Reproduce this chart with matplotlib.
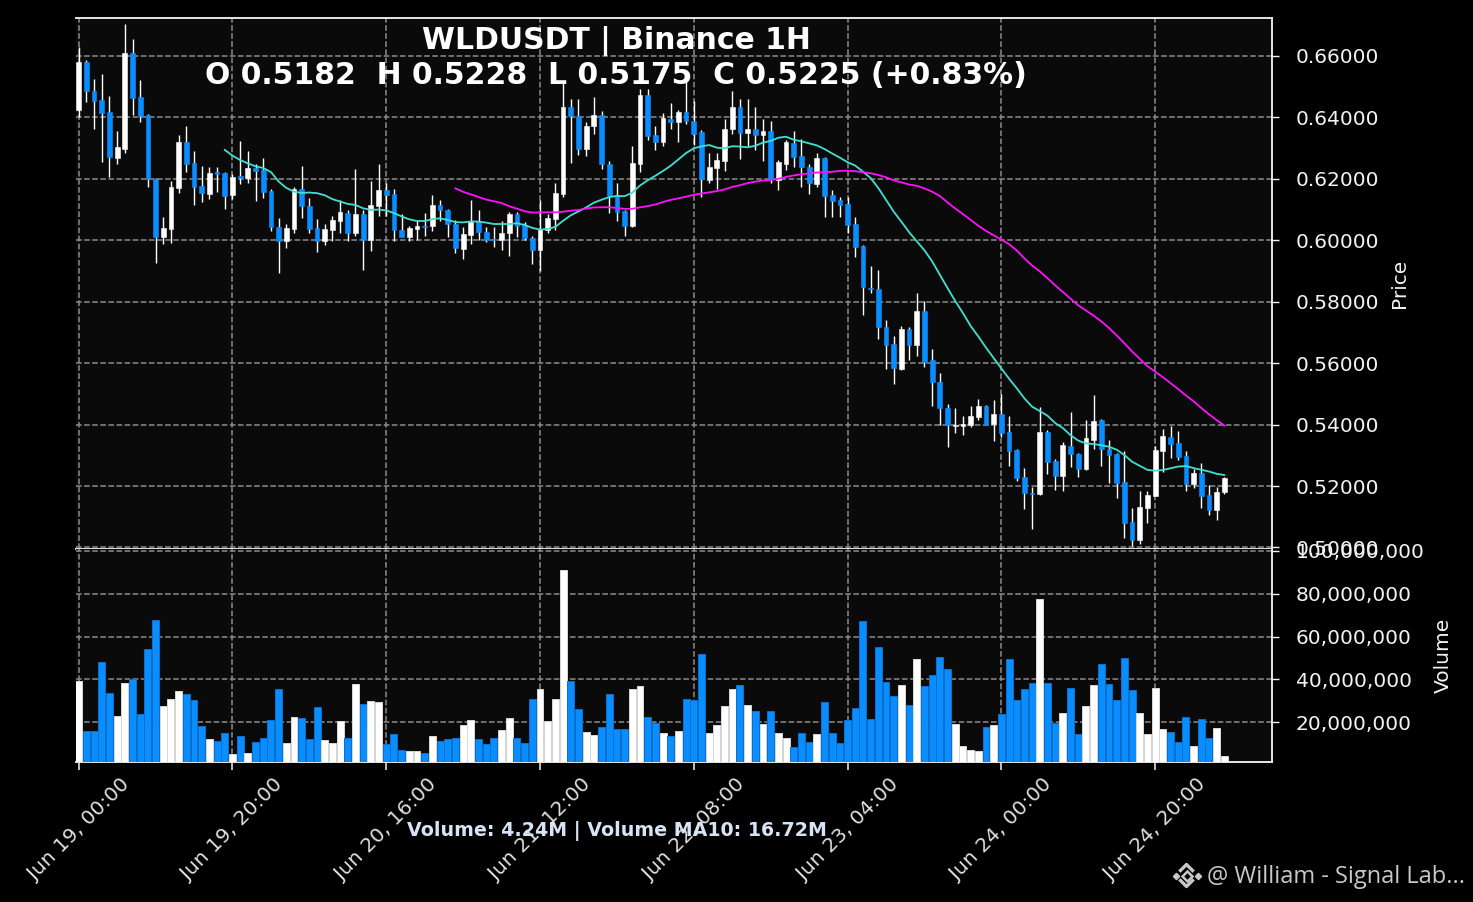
"""WLDUSDT 1H candles with MA20/MA50 and volume panel."""

import matplotlib

matplotlib.use("Agg")
import matplotlib.dates as mdates
import matplotlib.pyplot as plt
import matplotlib.ticker as mticker
import numpy as np
import pandas as pd
from matplotlib.lines import Line2D

SYMBOL = "WLDUSDT"
EXCHANGE = "Binance"
INTERVAL = "1H"
START = "2025-06-19 00:00"

opens = [
    0.6424, 0.6580, 0.6486, 0.6457, 0.6416, 0.6268, 0.6298, 0.6610, 0.6466, 0.6408,
    0.6200, 0.6011, 0.6037, 0.6171, 0.6320, 0.6251, 0.6175, 0.6150, 0.6222, 0.6218,
    0.6147, 0.6209, 0.6202, 0.6235, 0.6228, 0.6159, 0.6044, 0.5996, 0.6038, 0.6165,
    0.6110, 0.6040, 0.5996, 0.6034, 0.6064, 0.6090, 0.6022, 0.6084, 0.6000, 0.6110,
    0.6163, 0.6149, 0.6033, 0.6012, 0.6038, 0.6047, 0.6045, 0.6116, 0.6099, 0.6053,
    0.5972, 0.6017, 0.6059, 0.6028, 0.6004, 0.5999, 0.6023, 0.6086, 0.6050, 0.6008,
    0.5969, 0.6034, 0.6068, 0.6150, 0.6433, 0.6405, 0.6297, 0.6370, 0.6409, 0.6247,
    0.6146, 0.6094, 0.6045, 0.6248, 0.6471, 0.6343, 0.6321, 0.6395, 0.6384, 0.6416,
    0.6389, 0.6351, 0.6196, 0.6236, 0.6259, 0.6362, 0.6433, 0.6349, 0.6362, 0.6341,
    0.6354, 0.6196, 0.6248, 0.6316, 0.6274, 0.6239, 0.6183, 0.6267, 0.6146, 0.6130,
    0.6119, 0.6054, 0.5980, 0.5846, 0.5842, 0.5717, 0.5661, 0.5582, 0.5710, 0.5658,
    0.5768, 0.5609, 0.5540, 0.5454, 0.5395, 0.5395, 0.5400, 0.5426, 0.5459, 0.5402,
    0.5435, 0.5376, 0.5317, 0.5228, 0.5178, 0.5174, 0.5376, 0.5281, 0.5232, 0.5330,
    0.5304, 0.5254, 0.5351, 0.5414, 0.5322, 0.5304, 0.5213, 0.5084, 0.5025, 0.5130,
    0.5168, 0.5315, 0.5360, 0.5341, 0.5297, 0.5206, 0.5243, 0.5171, 0.5122, 0.5182,
]
highs = [
    0.6630, 0.6587, 0.6524, 0.6540, 0.6468, 0.6355, 0.6703, 0.6654, 0.6521, 0.6411,
    0.6204, 0.6075, 0.6193, 0.6341, 0.6372, 0.6290, 0.6243, 0.6237, 0.6237, 0.6223,
    0.6214, 0.6322, 0.6290, 0.6248, 0.6266, 0.6168, 0.6073, 0.6053, 0.6174, 0.6242,
    0.6138, 0.6069, 0.6053, 0.6080, 0.6130, 0.6097, 0.6231, 0.6097, 0.6192, 0.6248,
    0.6185, 0.6168, 0.6084, 0.6047, 0.6066, 0.6088, 0.6146, 0.6132, 0.6102, 0.6067,
    0.6043, 0.6132, 0.6097, 0.6043, 0.6043, 0.6062, 0.6092, 0.6092, 0.6059, 0.6013,
    0.6130, 0.6084, 0.6187, 0.6513, 0.6458, 0.6460, 0.6384, 0.6467, 0.6422, 0.6259,
    0.6185, 0.6097, 0.6307, 0.6493, 0.6491, 0.6370, 0.6414, 0.6447, 0.6425, 0.6518,
    0.6452, 0.6357, 0.6283, 0.6283, 0.6395, 0.6485, 0.6460, 0.6460, 0.6434, 0.6395,
    0.6387, 0.6261, 0.6327, 0.6356, 0.6330, 0.6247, 0.6283, 0.6272, 0.6163, 0.6141,
    0.6141, 0.6074, 0.5984, 0.5915, 0.5902, 0.5739, 0.5687, 0.5720, 0.5717, 0.5829,
    0.5801, 0.5647, 0.5568, 0.5467, 0.5454, 0.5427, 0.5462, 0.5484, 0.5465, 0.5480,
    0.5498, 0.5428, 0.5320, 0.5258, 0.5196, 0.5457, 0.5383, 0.5287, 0.5344, 0.5441,
    0.5308, 0.5416, 0.5495, 0.5419, 0.5349, 0.5308, 0.5314, 0.5128, 0.5184, 0.5184,
    0.5330, 0.5387, 0.5395, 0.5378, 0.5314, 0.5254, 0.5276, 0.5203, 0.5198, 0.5228,
]
lows = [
    0.6402, 0.6451, 0.6361, 0.6253, 0.6207, 0.6247, 0.6283, 0.6408, 0.6384, 0.6174,
    0.5927, 0.5986, 0.5991, 0.6152, 0.6221, 0.6116, 0.6125, 0.6133, 0.6158, 0.6100,
    0.6133, 0.6182, 0.6185, 0.6129, 0.6138, 0.6031, 0.5893, 0.5976, 0.6022, 0.6073,
    0.6022, 0.5963, 0.5984, 0.5996, 0.6022, 0.5998, 0.6014, 0.5904, 0.5965, 0.6080,
    0.6080, 0.5998, 0.6010, 0.5998, 0.6000, 0.6014, 0.6031, 0.6062, 0.6009, 0.5959,
    0.5939, 0.5988, 0.6001, 0.5993, 0.5977, 0.5968, 0.5948, 0.6010, 0.6001, 0.5922,
    0.5901, 0.6023, 0.6034, 0.6139, 0.6250, 0.6278, 0.6275, 0.6345, 0.6232, 0.6089,
    0.6064, 0.6015, 0.6043, 0.6223, 0.6327, 0.6294, 0.6305, 0.6362, 0.6319, 0.6378,
    0.6310, 0.6139, 0.6185, 0.6168, 0.6226, 0.6345, 0.6263, 0.6305, 0.6294, 0.6259,
    0.6185, 0.6163, 0.6228, 0.6239, 0.6174, 0.6149, 0.6174, 0.6075, 0.6075, 0.6075,
    0.6023, 0.5946, 0.5755, 0.5828, 0.5679, 0.5582, 0.5533, 0.5578, 0.5611, 0.5623,
    0.5587, 0.5459, 0.5397, 0.5326, 0.5372, 0.5366, 0.5391, 0.5415, 0.5398, 0.5345,
    0.5361, 0.5266, 0.5217, 0.5124, 0.5059, 0.5172, 0.5238, 0.5187, 0.5185, 0.5261,
    0.5230, 0.5252, 0.5319, 0.5266, 0.5209, 0.5160, 0.5030, 0.5005, 0.5011, 0.5079,
    0.5168, 0.5246, 0.5290, 0.5284, 0.5185, 0.5195, 0.5128, 0.5106, 0.5088, 0.5175,
]
closes = [
    0.6580, 0.6484, 0.6454, 0.6415, 0.6272, 0.6303, 0.6610, 0.6462, 0.6405, 0.6198,
    0.6011, 0.6039, 0.6173, 0.6320, 0.6249, 0.6174, 0.6152, 0.6218, 0.6215, 0.6143,
    0.6205, 0.6202, 0.6235, 0.6226, 0.6158, 0.6042, 0.5996, 0.6040, 0.6165, 0.6111,
    0.6038, 0.5998, 0.6037, 0.6067, 0.6091, 0.6022, 0.6084, 0.6000, 0.6113, 0.6163,
    0.6148, 0.6033, 0.6012, 0.6040, 0.6047, 0.6044, 0.6116, 0.6097, 0.6053, 0.5973,
    0.6021, 0.6059, 0.6026, 0.6002, 0.5999, 0.6024, 0.6084, 0.6046, 0.6007, 0.5969,
    0.6037, 0.6072, 0.6154, 0.6433, 0.6403, 0.6297, 0.6373, 0.6409, 0.6247, 0.6143,
    0.6092, 0.6046, 0.6252, 0.6471, 0.6338, 0.6321, 0.6398, 0.6384, 0.6416, 0.6387,
    0.6346, 0.6198, 0.6239, 0.6261, 0.6363, 0.6433, 0.6349, 0.6363, 0.6341, 0.6356,
    0.6198, 0.6256, 0.6318, 0.6272, 0.6237, 0.6187, 0.6267, 0.6144, 0.6128, 0.6114,
    0.6051, 0.5978, 0.5848, 0.5840, 0.5717, 0.5658, 0.5584, 0.5710, 0.5658, 0.5768,
    0.5605, 0.5538, 0.5453, 0.5397, 0.5399, 0.5402, 0.5429, 0.5459, 0.5400, 0.5435,
    0.5374, 0.5315, 0.5225, 0.5178, 0.5175, 0.5376, 0.5279, 0.5232, 0.5333, 0.5303,
    0.5254, 0.5355, 0.5411, 0.5320, 0.5301, 0.5211, 0.5081, 0.5023, 0.5133, 0.5171,
    0.5317, 0.5362, 0.5336, 0.5295, 0.5206, 0.5243, 0.5169, 0.5122, 0.5182, 0.5225,
]
# volume in millions
volumes_m = [
    39.5, 16.1, 16.1, 48.2, 33.8, 22.8, 38.4, 40.3, 24.0, 54.3,
    67.7, 27.4, 31.0, 34.7, 33.3, 30.5, 18.4, 12.4, 11.5, 15.2,
    5.4, 13.8, 5.9, 11.0, 12.9, 21.2, 35.7, 10.5, 22.6, 22.2,
    12.4, 27.3, 11.9, 10.2, 20.8, 12.9, 38.0, 28.7, 30.1, 29.6,
    10.1, 14.7, 7.3, 6.4, 6.4, 5.9, 13.8, 11.5, 12.4, 12.9,
    18.9, 21.2, 12.4, 10.1, 12.9, 16.6, 22.2, 12.9, 10.5, 31.0,
    35.7, 20.8, 31.0, 91.0, 39.4, 26.4, 15.7, 14.3, 18.0, 33.3,
    17.1, 17.1, 35.7, 37.0, 22.6, 19.8, 15.2, 13.8, 16.1, 31.0,
    30.5, 51.9, 15.2, 18.9, 27.7, 35.7, 37.5, 28.2, 25.4, 19.4,
    25.4, 15.2, 12.9, 8.7, 15.2, 11.0, 14.7, 29.6, 15.2, 10.5,
    21.2, 26.8, 67.3, 21.7, 55.2, 38.9, 32.4, 37.5, 28.2, 49.6,
    37.0, 42.2, 50.5, 45.0, 19.4, 9.1, 7.3, 6.8, 18.0, 18.9,
    24.0, 49.6, 30.5, 35.7, 38.4, 77.5, 38.4, 19.8, 24.5, 36.1,
    14.7, 27.7, 37.5, 47.3, 38.0, 30.5, 50.1, 35.2, 24.5, 14.7,
    36.0, 17.1, 15.7, 11.0, 22.5, 9.1, 21.5, 12.9, 17.2, 4.24,
]

UP = "#ffffff"
DOWN = "#0a8dff"
BG = "#0a0a0a"
GRID = "#8c8c8c"
SPINE = "#e6e6e6"
TXT = "#f2f2f2"

o = np.array(opens)
h = np.array(highs)
l = np.array(lows)
c = np.array(closes)
vol = np.array(volumes_m) * 1e6

times = pd.date_range(START, periods=len(o), freq="h")
x = mdates.date2num(times.to_pydatetime())
hour = 1 / 24
up = c >= o
colors = np.where(up, UP, DOWN)

W, H = 1473, 902
fig = plt.figure(figsize=(W / 100, H / 100), dpi=100, facecolor="black")
left, right = 76, 1272
ax = fig.add_axes([left / W, 1 - 549 / H, (right - left) / W, (549 - 18) / H])
axv = fig.add_axes([left / W, 1 - 762 / H, (right - left) / W, (762 - 549) / H], sharex=ax)

for a in (ax, axv):
    a.set_facecolor(BG)
    a.set_axisbelow(True)
    a.grid(True, color=GRID, linestyle="--", linewidth=1.1)
    a.spines["left"].set_visible(False)
    for s in ("top", "right", "bottom"):
        a.spines[s].set_color(SPINE)
        a.spines[s].set_linewidth(1.4)
    a.yaxis.tick_right()
    a.yaxis.set_label_position("right")
    a.tick_params(axis="y", colors=TXT, labelsize=14.5, length=5, width=1, pad=12)
axv.spines["top"].set_visible(False)

# candles
ax.vlines(x, l, h, color=UP, linewidth=1.0, zorder=2)
body = np.maximum(np.abs(c - o), 0.00006)
ax.bar(x, body, bottom=np.minimum(o, c), width=0.62 * hour,
       color=colors, edgecolor=colors, linewidth=0.4, zorder=3)

# moving averages
ma20 = pd.Series(c).rolling(20).mean()
ma50 = pd.Series(c).rolling(50).mean()
ax.plot(x, ma20, color="#40e0d0", linewidth=1.3, zorder=4)
ax.plot(x, ma50, color="#ff10ff", linewidth=1.3, zorder=4)

ax.set_ylim(l.min() * 0.998, h.max() * 1.003)
ax.set_yticks(np.arange(0.50, 0.6601, 0.02))
ax.yaxis.set_major_formatter(mticker.FormatStrFormatter("%.5f"))
ax.set_ylabel("Price", color=TXT, fontsize=14.5)
ax.yaxis.set_label_coords(1.0987, 0.5)
ax.tick_params(axis="x", bottom=False, labelbottom=False)

# volume
edge = np.where(up, "#d8d8d8", "#0a70d0")
axv.bar(x, vol, width=0.9 * hour, color=colors, edgecolor=edge, linewidth=0.7, zorder=3)
axv.set_ylim(1.5e6, vol.max() * 1.108)
axv.set_yticks([20e6, 40e6, 60e6, 80e6, 100e6])
axv.yaxis.set_major_formatter(mticker.FuncFormatter(lambda v, _: f"{v:,.0f}"))
axv.set_ylabel("Volume", color=TXT, fontsize=14.5)
axv.yaxis.set_label_coords(1.1355, 0.5)

axv.set_xticks(x[::20])
axv.xaxis.set_major_formatter(mdates.DateFormatter("%b %d, %H:%M"))
axv.tick_params(axis="x", colors="#e0e0e0", labelsize=14.5, length=6, width=1.2)
plt.setp(axv.get_xticklabels(), rotation=45, ha="center")
axv.set_xlim(x[0] - 0.35 * hour, x[0] + 155.2 * hour)

# header
chg = (c[-1] / o[-1] - 1) * 100
fig.text(616 / W, 1 - 41 / H, f"{SYMBOL} | {EXCHANGE} {INTERVAL}",
         ha="center", va="center", color="white", fontsize=21.5, weight="bold")
fig.text(616 / W, 1 - 76 / H,
         f"O {o[-1]:.4f}  H {h[-1]:.4f}  L {l[-1]:.4f}  C {c[-1]:.4f} ({chg:+.2f}%)",
         ha="center", va="center", color="white", fontsize=21.5, weight="bold")

vol_ma10 = vol[-10:].mean()
fig.text(617 / W, 1 - 831 / H,
         f"Volume: {vol[-1] / 1e6:.2f}M | Volume MA10: {vol_ma10 / 1e6:.2f}M",
         ha="center", va="center", color="#d6e4f5", fontsize=13.7, weight="bold")

# watermark with small exchange logo
fig.text(1207 / W, 1 - 877 / H, "@ William - Signal Lab...", ha="left", va="center",
         color="#c8c8c8", fontsize=17, family=["Open Sans", "DejaVu Sans"])


def px(xx, yy):
    return [v / W for v in xx], [1 - v / H for v in yy]


cx, cy = 1186.5, 875.5
logo_col = "#c8c8c8"
for dx in (-10.5, 11.5):
    fx, fy = px([cx + dx], [cy])
    fig.add_artist(Line2D(fx, fy, marker="D", markersize=3.2, color=logo_col, linestyle="none"))
fx, fy = px([cx], [cy])
fig.add_artist(Line2D(fx, fy, marker="D", markersize=5, markerfacecolor="black",
                      markeredgecolor=logo_col, markeredgewidth=1.8, linestyle="none"))
fx, fy = px([cx - 6, cx, cx + 6], [cy - 5, cy - 11, cy - 5])
fig.add_artist(Line2D(fx, fy, color=logo_col, linewidth=2.4))
fx, fy = px([cx - 6, cx, cx + 6], [cy + 5, cy + 11, cy + 5])
fig.add_artist(Line2D(fx, fy, color=logo_col, linewidth=2.4))

fig.savefig("out.png", dpi=100, facecolor="black")
